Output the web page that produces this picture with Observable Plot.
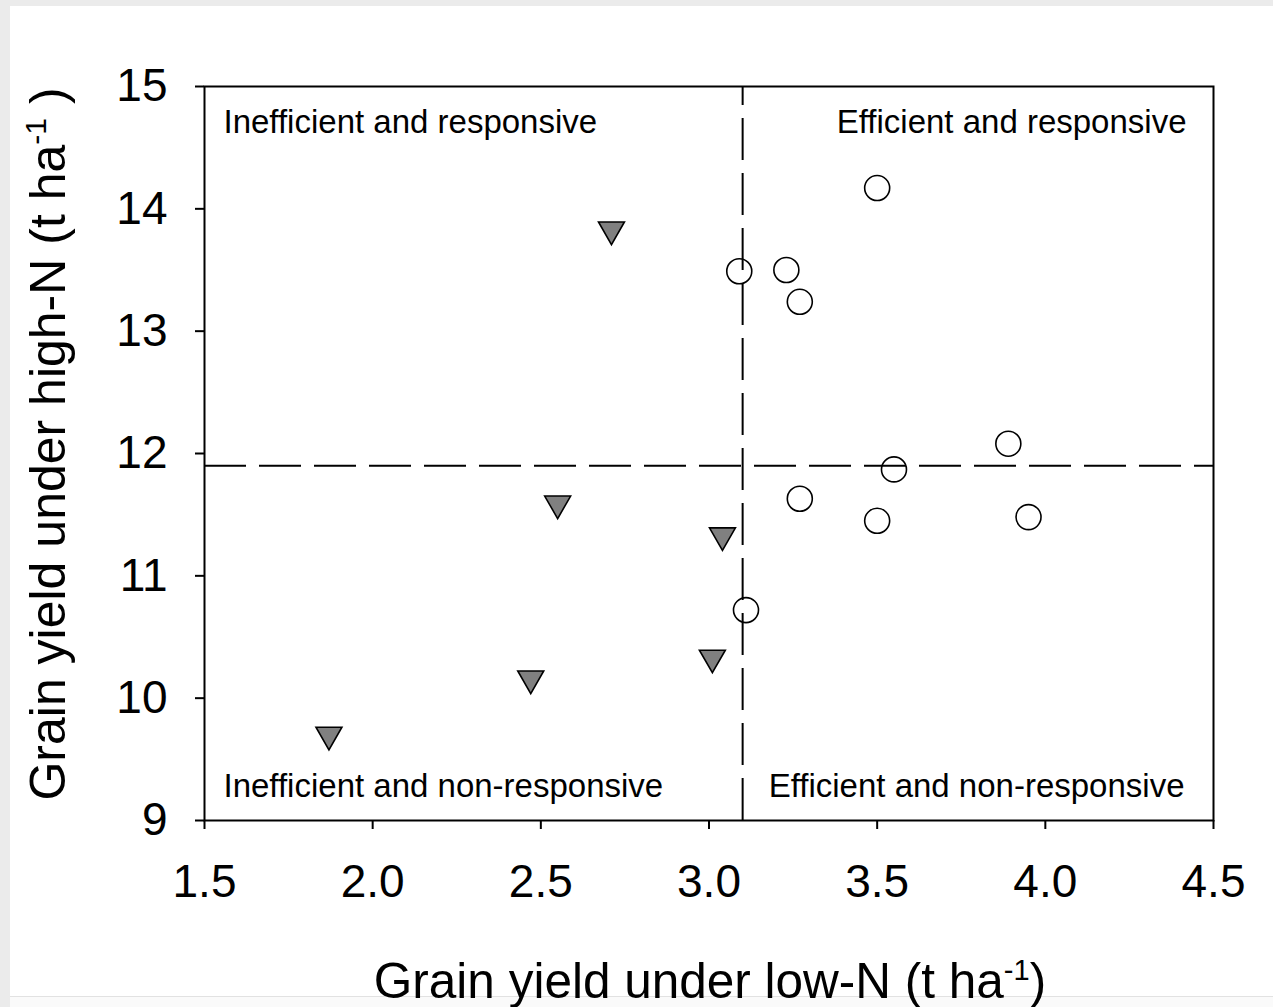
<!DOCTYPE html>
<html>
<head>
<meta charset="utf-8">
<script src="https://cdn.jsdelivr.net/npm/d3@7"></script>
<script src="https://cdn.jsdelivr.net/npm/@observablehq/plot@0.6"></script>
<style>
  html, body { margin: 0; padding: 0; background: #ebebeb; width: 1273px; height: 1007px; overflow: hidden; }
  #panel { position: absolute; left: 10px; top: 6px; width: 1263px; height: 990px; background: #ffffff; border-bottom: 1px solid #e2e2e2; }
  #foot { position: absolute; left: 10px; top: 997px; width: 1263px; height: 10px; background: #fafafa; }
  #chart { position: absolute; left: 0; top: 0; }
</style>
</head>
<body>
<div id="panel"></div>
<div id="foot"></div>
<div id="chart"></div>
<script>
// Efficient genotypes (open circles)
const effLowN  = [3.09, 3.23, 3.27, 3.50, 3.89, 3.55, 3.27, 3.50, 3.95, 3.11];
const effHighN = [13.49, 13.50, 13.24, 14.17, 12.08, 11.87, 11.63, 11.45, 11.48, 10.72];
// Inefficient genotypes (grey down-triangles)
const ineffLowN  = [1.87, 2.47, 2.55, 2.71, 3.01, 3.04];
const ineffHighN = [9.67, 10.13, 11.56, 13.80, 10.30, 11.30];
// Reference lines (means)
const meanLowN = [3.10];
const meanHighN = [11.9];
// Axes
const xDomain = [1.5, 4.5];
const yDomain = [9, 15];
const xTicks = [1.5, 2.0, 2.5, 3.0, 3.5, 4.0, 4.5];
const yTicks = [9, 10, 11, 12, 13, 14, 15];
const xTitle = "Grain yield under low-N (t ha";
const yTitle = "Grain yield under high-N (t ha";
const quadrantLabels = ["Inefficient and responsive", "Efficient and responsive", "Inefficient and non-responsive", "Efficient and non-responsive"];

const effData = effLowN.map((x, i) => ({x, y: effHighN[i]}));
const ineffData = ineffLowN.map((x, i) => ({x, y: ineffHighN[i]}));

const triangleDown = {
  draw(context, size) {
    const r = Math.sqrt(size / Math.PI);
    const hw = r * 1.08, hh = r * 0.94;
    context.moveTo(-hw, -hh);
    context.lineTo(hw, -hh);
    context.lineTo(0, hh);
    context.closePath();
  }
};

const font = "'Liberation Sans', Arial, Helvetica, sans-serif";

const chart = Plot.plot({
  width: 1273,
  height: 1007,
  marginLeft: 204,
  marginRight: 60,
  marginTop: 86,
  marginBottom: 187,
  style: {background: "transparent", fontFamily: font, color: "black", overflow: "visible"},
  x: {domain: xDomain},
  y: {domain: yDomain},
  marks: [
    Plot.axisX({ticks: xTicks, tickFormat: d => d.toFixed(1), tickSize: 9, tickPadding: 35, fontSize: 46, label: null, stroke: "black", strokeWidth: 2}),
    Plot.axisY({ticks: yTicks, tickFormat: d => String(d), tickSize: 9, tickPadding: 28, fontSize: 46, label: null, stroke: "black", strokeWidth: 2}),
    Plot.dot(effData, {x: "x", y: "y", r: 12.5, fill: "white", stroke: "black", strokeWidth: 1.6}),
    Plot.dot(ineffData, {x: "x", y: "y", r: 12, symbol: triangleDown, fill: "#808080", stroke: "black", strokeWidth: 1.6}),
    Plot.ruleX(meanLowN, {y1: yDomain[0], y2: yDomain[1], stroke: "black", strokeWidth: 2, strokeDasharray: "42,13"}),
    Plot.ruleY(meanHighN, {stroke: "black", strokeWidth: 2, strokeDasharray: "42,13"}),
    Plot.text([quadrantLabels[0]], {text: d => d, frameAnchor: "top-left", textAnchor: "start", lineAnchor: "bottom", dx: 19, dy: 46, fontSize: 33, fill: "black"}),
    Plot.text([quadrantLabels[1]], {text: d => d, frameAnchor: "top-right", textAnchor: "end", lineAnchor: "bottom", dx: -27, dy: 46, fontSize: 33, fill: "black"}),
    Plot.text([quadrantLabels[2]], {text: d => d, frameAnchor: "bottom-left", textAnchor: "start", lineAnchor: "bottom", dx: 19, dy: -24, fontSize: 33, fill: "black"}),
    Plot.text([quadrantLabels[3]], {text: d => d, frameAnchor: "bottom-right", textAnchor: "end", lineAnchor: "bottom", dx: -29, dy: -24, fontSize: 33, fill: "black"}),
    Plot.frame({stroke: "black", strokeWidth: 2})
  ]
});

const svg = d3.select(chart);
// x axis title
const xt = svg.append("text")
  .attr("x", 710)
  .attr("y", 998)
  .attr("text-anchor", "middle")
  .attr("font-family", font)
  .attr("font-size", 49.5)
  .attr("fill", "black");
xt.append("tspan").text(xTitle);
xt.append("tspan").attr("dy", "-0.62em").attr("font-size", 29).text("-1");
xt.append("tspan").attr("dy", "0.37em").text(")");

// y axis title
const yt = svg.append("text")
  .attr("transform", "translate(65,444) rotate(-90)")
  .attr("text-anchor", "middle")
  .attr("font-family", font)
  .attr("font-size", 50)
  .attr("fill", "black");
yt.append("tspan").text(yTitle);
yt.append("tspan").attr("dy", "-0.62em").attr("font-size", 30).text("-1");
yt.append("tspan").attr("dy", "0.37em").text(" )");

document.getElementById("chart").appendChild(chart);
</script>
</body>
</html>
